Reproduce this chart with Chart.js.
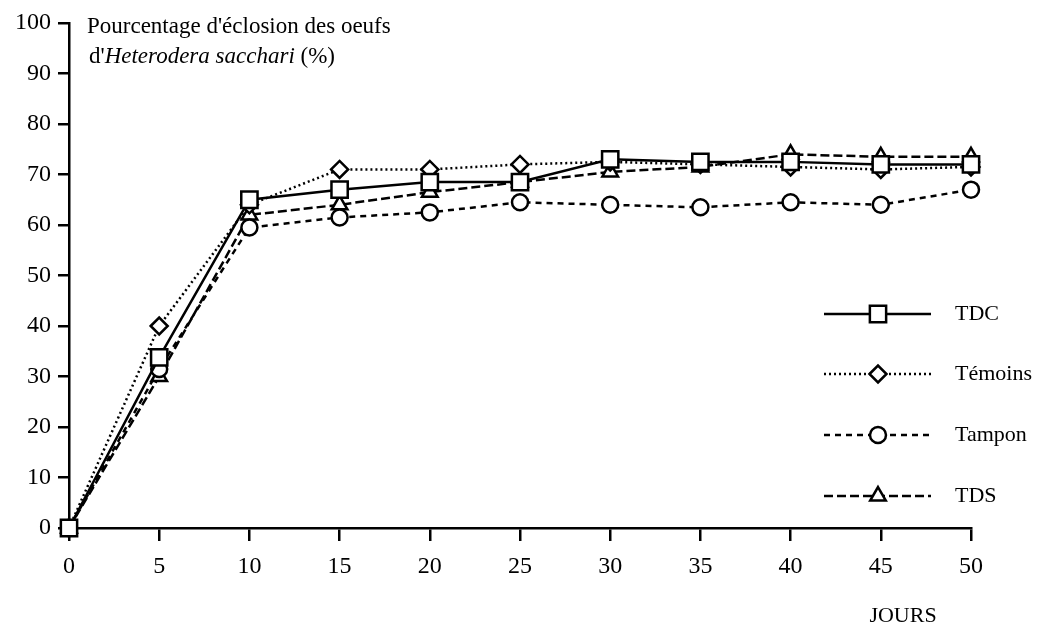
<!DOCTYPE html>
<html>
<head>
<meta charset="utf-8">
<script src="https://cdn.jsdelivr.net/npm/chart.js@4"></script>
<style>
  body { margin: 0; background: #fff; }
  #wrap { width: 1049px; height: 629px; }
</style>
</head>
<body>
<div id="wrap"><canvas id="myChart" width="1049" height="629"></canvas></div>
<script>
// Jours d'observation
const jours = [0, 5, 10, 15, 20, 25, 30, 35, 40, 45, 50];
// Pourcentage d'éclosion par traitement
const tdc     = [0, 33.8, 65, 67, 68.5, 68.5, 73, 72.5, 72.5, 72, 72];
const temoins = [0, 40, 64, 71, 71, 72, 72.5, 72, 71.5, 71, 71.5];
const tampon  = [0, 31.5, 59.5, 61.5, 62.5, 64.5, 64, 63.5, 64.5, 64, 67];
const tds     = [0, 30, 62, 64, 66.5, 68.5, 70.5, 71.5, 74, 73.5, 73.5];
const yTicks = [0, 10, 20, 30, 40, 50, 60, 70, 80, 90, 100];

const police = "'Liberation Serif', 'Times New Roman', serif";

function serie(label, valeurs, style, rayon, dash, epaisseur) {
    return {
        label: label,
        data: jours.map((j, i) => ({ x: j, y: valeurs[i] })),
        borderColor: '#000',
        borderWidth: epaisseur,
        borderDash: dash,
        pointStyle: style,
        pointRadius: rayon,
        pointHoverRadius: rayon,
        pointBackgroundColor: '#fff',
        pointBorderColor: '#000',
        pointBorderWidth: 2.5,
        tension: 0,
        clip: false
    };
}

// Légende dessinée à droite, comme dans la figure d'origine
const legendePlugin = {
    id: 'legende',
    afterDraw(chart) {
        const ctx = chart.ctx;
        const rangs = [314, 374, 435, 496];
        chart.data.datasets.forEach((ds, i) => {
            const y = rangs[i];
            ctx.save();
            ctx.strokeStyle = '#000';
            ctx.lineWidth = ds.borderWidth;
            ctx.setLineDash(ds.borderDash || []);
            ctx.beginPath();
            ctx.moveTo(824, y);
            ctx.lineTo(931, y);
            ctx.stroke();
            ctx.setLineDash([]);
            ctx.fillStyle = '#fff';
            ctx.lineWidth = 2.5;
            Chart.helpers.drawPoint(ctx, { pointStyle: ds.pointStyle, radius: ds.pointRadius, rotation: 0, borderWidth: 2.5 }, 878, y);
            ctx.fillStyle = '#000';
            ctx.font = '22px ' + police;
            ctx.textBaseline = 'middle';
            ctx.fillText(ds.label, 955, y);
            ctx.restore();
        });
    }
};

// Titre de l'axe Y et étiquette JOURS
const textesPlugin = {
    id: 'textes',
    afterDraw(chart) {
        const ctx = chart.ctx;
        ctx.save();
        ctx.fillStyle = '#000';
        ctx.textBaseline = 'alphabetic';
        ctx.font = '23px ' + police;
        ctx.fillText("Pourcentage d'éclosion des oeufs", 87, 33);
        let x = 89;
        ctx.fillText("d'", x, 63);
        x += ctx.measureText("d'").width;
        ctx.font = 'italic 23px ' + police;
        ctx.fillText('Heterodera sacchari', x, 63);
        x += ctx.measureText('Heterodera sacchari ').width;
        ctx.font = '23px ' + police;
        ctx.fillText('(%)', x, 63);
        ctx.textAlign = 'center';
        ctx.font = '22px ' + police;
        ctx.fillText('JOURS', 903, 622);
        ctx.restore();
    }
};

const ctx = document.getElementById('myChart').getContext('2d');
new Chart(ctx, {
    type: 'line',
    data: {
        datasets: [
            serie('TDC', tdc, 'rect', 11.5, [], 2.5),
            serie('Témoins', temoins, 'rectRot', 8.5, [2, 3], 2.5),
            serie('Tampon', tampon, 'circle', 8, [6, 5], 2.5),
            serie('TDS', tds, 'triangle', 9, [9, 4], 2.5)
        ]
    },
    options: {
        responsive: false,
        animation: false,
        layout: { padding: { top: 23, right: 78, left: 0, bottom: 0 } },
        plugins: {
            legend: { display: false },
            title: { display: false },
            tooltip: { enabled: false }
        },
        scales: {
            x: {
                type: 'linear',
                min: 0,
                max: 50,
                afterFit: (scale) => { scale.height = 101; },
                afterBuildTicks: (scale) => { scale.ticks = jours.map(v => ({ value: v })); },
                border: { display: true, color: '#000', width: 2.5 },
                grid: { drawOnChartArea: false, drawTicks: true, tickLength: 13, color: '#000', lineWidth: 2.5 },
                ticks: { color: '#000', padding: 11, maxRotation: 0, font: { family: police, size: 24 } }
            },
            y: {
                min: 0,
                max: 100,
                afterFit: (scale) => { scale.width = 69; },
                afterBuildTicks: (scale) => { scale.ticks = yTicks.map(v => ({ value: v })); },
                border: { display: true, color: '#000', width: 2.5 },
                grid: { drawOnChartArea: false, drawTicks: true, tickLength: 11, color: '#000', lineWidth: 2.5 },
                ticks: { color: '#000', padding: 7, font: { family: police, size: 24 } }
            }
        }
    },
    plugins: [legendePlugin, textesPlugin]
});
</script>
</body>
</html>
